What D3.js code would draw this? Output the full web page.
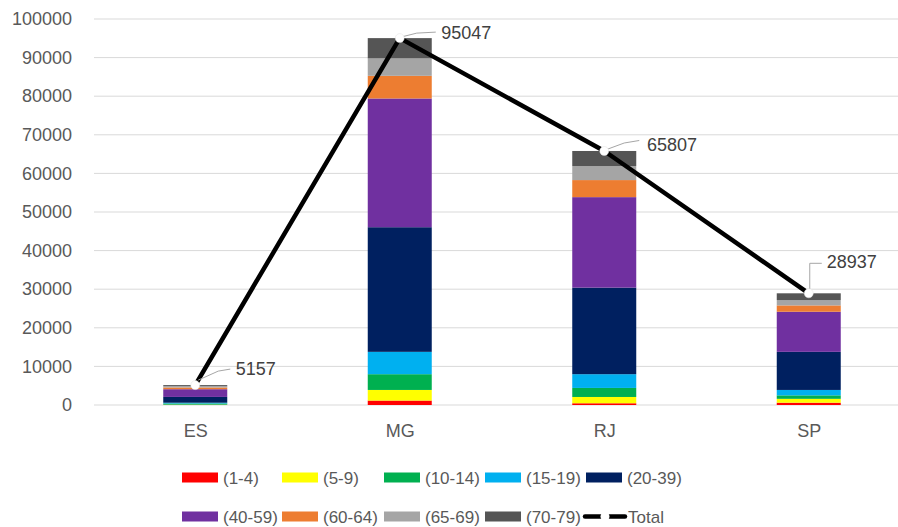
<!DOCTYPE html>
<html>
<head>
<meta charset="utf-8">
<script src="https://cdn.jsdelivr.net/npm/d3@7"></script>
<style>
  html, body { margin: 0; padding: 0; background: #fff; }
  svg { display: block; font-family: "Liberation Sans", Arial, sans-serif; }
</style>
</head>
<body>
<svg id="chart" width="898" height="527"></svg>
<script>
// ---- data ----
const categories = ["ES", "MG", "RJ", "SP"];
const seriesNames = ["(1-4)", "(5-9)", "(10-14)", "(15-19)", "(20-39)", "(40-59)", "(60-64)", "(65-69)", "(70-79)"];
const v1_4   = [30,   1150,  450,   600];
const v5_9   = [60,   2750,  1630,  1000];
const v10_14 = [300,  4080,  2340,  900];
const v15_19 = [200,  5790,  3560,  1400];
const v20_39 = [1500, 32290, 22420, 9870];
const v40_59 = [2000, 33350, 23450, 10390];
const v60_64 = [450,  5870,  4420,  1640];
const v65_69 = [350,  4520,  3640,  1400];
const v70_79 = [267,  5247,  3897,  1737];
const totals = [5157, 95047, 65807, 28937];
const yTicks = [0, 10000, 20000, 30000, 40000, 50000, 60000, 70000, 80000, 90000, 100000];

// ---- styles ----
const seriesValues = [v1_4, v5_9, v10_14, v15_19, v20_39, v40_59, v60_64, v65_69, v70_79];
const colors = ["#FF0000", "#FFFF00", "#00B050", "#00B0F0", "#002060", "#7030A0", "#ED7D31", "#A5A5A5", "#555555"];
const textColor = "#595959";
const gridColor = "#D9D9D9";

const svg = d3.select("#chart");

const x = d3.scalePoint().domain(categories).range([93, 911]).padding(0.5);
const y = d3.scaleLinear().domain([0, 100000]).range([405, 19]);
const barW = 64;

// gridlines
svg.append("g").selectAll("line").data(yTicks).join("line")
  .attr("x1", 94).attr("x2", 898)
  .attr("y1", d => y(d)).attr("y2", d => y(d))
  .attr("stroke", gridColor).attr("stroke-width", 1);

// y-axis labels
const yAxis = d3.axisLeft(y).tickValues(yTicks).tickSize(0).tickPadding(0).tickFormat(d3.format("d"));
const yg = svg.append("g").attr("transform", "translate(72,0)").call(yAxis);
yg.select(".domain").remove();
yg.selectAll("text").attr("fill", textColor).style("font-size", "18px")
  .style("font-family", '"Liberation Sans", Arial, sans-serif');

// x-axis labels
const xAxis = d3.axisBottom(x).tickSize(0).tickPadding(0);
const xg = svg.append("g").attr("transform", "translate(0,424)").call(xAxis);
xg.select(".domain").remove();
xg.selectAll("text").attr("fill", textColor).style("font-size", "18px")
  .style("font-family", '"Liberation Sans", Arial, sans-serif');

// stacked bars
const rows = categories.map((c, i) => {
  const o = { cat: c };
  seriesNames.forEach((s, j) => { o[s] = seriesValues[j][i]; });
  return o;
});
const stack = d3.stack().keys(seriesNames)(rows);
svg.append("g").selectAll("g").data(stack).join("g")
  .attr("fill", (d, i) => colors[i])
  .selectAll("rect").data(d => d).join("rect")
  .attr("x", d => x(d.data.cat) - barW / 2)
  .attr("width", barW)
  .attr("y", d => y(d[1]))
  .attr("height", d => y(d[0]) - y(d[1]));

// total line
const pts = categories.map((c, i) => [x(c), y(totals[i])]);
svg.append("path")
  .attr("d", d3.line()(pts))
  .attr("fill", "none").attr("stroke", "#000").attr("stroke-width", 4.5)
  .attr("stroke-linejoin", "round");

// leader lines & labels (layout offsets relative to the point)
const leaders = [
  [[3, -5], [23, -14], [35, -16]],
  [[1, -1], [17, -5], [36, -6]],
  [[1, -1], [20, -8], [35, -10.5]],
  [[1, -2], [1, -30], [13, -30]]
];
const labelOff = [[40.5, -10], [41.5, 1], [42.7, 0.5], [18, -25]];

svg.append("g").selectAll("path").data(pts).join("path")
  .attr("d", (p, i) => d3.line()(leaders[i].map(o => [p[0] + o[0], p[1] + o[1]])))
  .attr("fill", "none").attr("stroke", "#A6A6A6").attr("stroke-width", 1);

svg.append("g").selectAll("circle").data(pts).join("circle")
  .attr("cx", p => p[0]).attr("cy", p => p[1]).attr("r", 4.5)
  .attr("fill", "#fff").attr("stroke", "#E0E0E0").attr("stroke-width", 0.5);

svg.append("g").selectAll("text").data(pts).join("text")
  .attr("x", (p, i) => p[0] + labelOff[i][0])
  .attr("y", (p, i) => p[1] + labelOff[i][1])
  .attr("fill", "#404040").style("font-size", "18px")
  .text((p, i) => totals[i]);

// legend
const legendItems = seriesNames.map((s, i) => ({ name: s, color: colors[i], type: "rect" }))
  .concat([{ name: "Total", color: "#000", type: "line" }]);
const legX = [182, 282, 384, 485, 586];
const legY = [477.5, 516.5];
const lg = svg.append("g").selectAll("g").data(legendItems).join("g")
  .attr("transform", (d, i) => `translate(${legX[i % 5] - (d.type === "line" ? 1 : 0)},${legY[Math.floor(i / 5)]})`);
lg.filter(d => d.type === "rect").append("rect")
  .attr("x", 0).attr("y", -5).attr("width", 36).attr("height", 10)
  .attr("fill", d => d.color);
lg.filter(d => d.type === "line").append("line")
  .attr("x1", 0).attr("x2", 40).attr("y1", 0).attr("y2", 0)
  .attr("stroke", "#000").attr("stroke-width", 4.5).attr("stroke-linecap", "round");
lg.filter(d => d.type === "line").append("circle")
  .attr("cx", 20).attr("cy", 0).attr("r", 4.5).attr("fill", "#fff");
lg.append("text")
  .attr("x", d => d.type === "line" ? 43 : 41)
  .attr("y", 6)
  .attr("fill", textColor).style("font-size", "17px")
  .text(d => d.name);
</script>
</body>
</html>
